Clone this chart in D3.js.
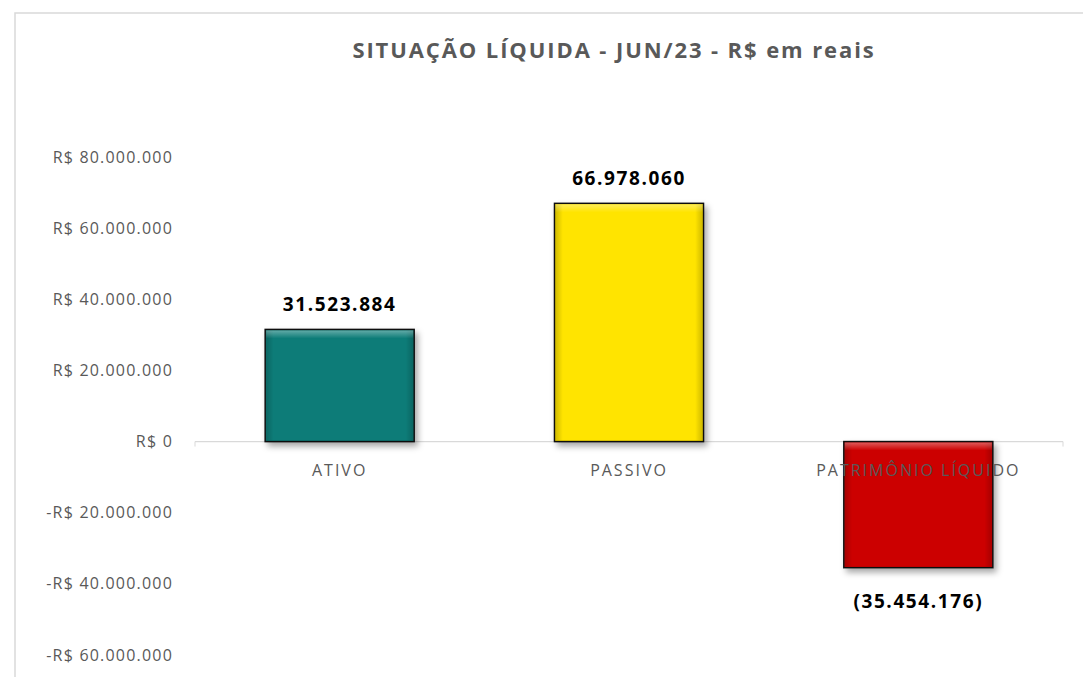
<!DOCTYPE html>
<html lang="pt">
<head>
<meta charset="utf-8">
<title>Situação Líquida</title>
<script src="https://d3js.org/d3.v7.min.js"></script>
<style>
  body { margin: 0; background: #fff; }
  svg { font-family: "Open Sans", "Noto Sans", sans-serif; }
  .frame { fill: #fff; stroke: #d9d9d9; stroke-width: 1.5px; }
  .title { font-size: 22px; font-weight: bold; fill: #595959; letter-spacing: 1.9px; }
  .axis text { font-size: 16px; fill: #595959; letter-spacing: 1.2px; }
  .cat { font-size: 16px; fill: #595959; letter-spacing: 2px; }
  .val { font-size: 19px; font-weight: bold; fill: #000; letter-spacing: 1.6px; }
  .bar { stroke: #111; stroke-width: 1.5px; }
</style>
</head>
<body>
<script>
var categories = ["ATIVO", "PASSIVO", "PATRIMÔNIO LÍQUIDO"];
var values = [31523884, 66978060, -35454176];
var colors = ["#0b7b78", "#ffe400", "#cc0505"];
var yTicks = [-60000000, -40000000, -20000000, 0, 20000000, 40000000, 60000000, 80000000];

var width = 1083, height = 677;
var plotLeft = 195, plotRight = 1063, plotTop = 157, plotBottom = 655;

var svg = d3.select("body").append("svg")
    .attr("width", width)
    .attr("height", height);

var defs = svg.append("defs");
var shadow = defs.append("filter").attr("id", "shadow")
    .attr("x", "-10%").attr("y", "-10%").attr("width", "130%").attr("height", "130%");
shadow.append("feDropShadow")
    .attr("dx", 3).attr("dy", 4).attr("stdDeviation", 3)
    .attr("flood-color", "#000").attr("flood-opacity", 0.35);

// bevel: light at the top edge, darker on the sides
var bevel = defs.append("linearGradient").attr("id", "bevelTop")
    .attr("x1", 0).attr("y1", 0).attr("x2", 0).attr("y2", 1);
bevel.append("stop").attr("offset", 0).attr("stop-color", "#fff").attr("stop-opacity", 0.35);
bevel.append("stop").attr("offset", 1).attr("stop-color", "#fff").attr("stop-opacity", 0);
var side = defs.append("linearGradient").attr("id", "bevelSide")
    .attr("x1", 0).attr("y1", 0).attr("x2", 1).attr("y2", 0);
side.append("stop").attr("offset", 0).attr("stop-color", "#000").attr("stop-opacity", 0.18);
side.append("stop").attr("offset", 0.05).attr("stop-color", "#000").attr("stop-opacity", 0);
side.append("stop").attr("offset", 0.95).attr("stop-color", "#000").attr("stop-opacity", 0);
side.append("stop").attr("offset", 1).attr("stop-color", "#000").attr("stop-opacity", 0.18);

svg.append("rect").attr("class", "frame")
    .attr("x", 15).attr("y", 13).attr("width", 1100).attr("height", 700);

svg.append("text").attr("class", "title")
    .attr("x", 614).attr("y", 58)
    .attr("text-anchor", "middle")
    .text("SITUAÇÃO LÍQUIDA - JUN/23 - R$ em reais");

var x = d3.scaleBand()
    .domain(categories)
    .range([plotLeft, plotRight])
    .paddingInner(0.485)
    .paddingOuter(0.2425);

var y = d3.scaleLinear()
    .domain([-60000000, 80000000])
    .range([plotBottom, plotTop]);

var num = d3.formatLocale({ decimal: ",", thousands: ".", grouping: [3], currency: ["R$ ", ""] }).format(",.0f");
function money(d) { return d < 0 ? "-R$ " + num(-d) : "R$ " + num(d); }

var yAxis = svg.append("g").attr("class", "axis")
    .attr("transform", "translate(" + (plotLeft - 14) + ",0)")
    .call(d3.axisLeft(y).tickValues(yTicks).tickSize(0).tickPadding(8).tickFormat(money))
    .attr("font-family", null)
    .attr("font-size", null);
yAxis.select(".domain").remove();

// zero line
svg.append("line")
    .attr("x1", plotLeft).attr("x2", plotRight)
    .attr("y1", y(0)).attr("y2", y(0))
    .attr("stroke", "#d9d9d9").attr("stroke-width", 1.3);
svg.selectAll(".zt").data([plotLeft, plotRight]).enter().append("line")
    .attr("x1", function(d) { return d; }).attr("x2", function(d) { return d; })
    .attr("y1", y(0)).attr("y2", y(0) + 5)
    .attr("stroke", "#d9d9d9");

var bars = svg.append("g").selectAll("g")
    .data(values).enter().append("g");

bars.append("rect").attr("class", "bar")
    .attr("x", function(d, i) { return x(categories[i]); })
    .attr("y", function(d) { return y(Math.max(0, d)); })
    .attr("width", x.bandwidth())
    .attr("height", function(d) { return Math.abs(y(d) - y(0)); })
    .attr("fill", function(d, i) { return colors[i]; })
    .attr("filter", "url(#shadow)");

bars.append("rect")
    .attr("x", function(d, i) { return x(categories[i]) + 1; })
    .attr("y", function(d) { return y(Math.max(0, d)) + 1; })
    .attr("width", x.bandwidth() - 2)
    .attr("height", function(d) { return Math.abs(y(d) - y(0)) - 2; })
    .attr("fill", "url(#bevelSide)");

bars.append("rect")
    .attr("x", function(d, i) { return x(categories[i]) + 1; })
    .attr("y", function(d) { return y(Math.max(0, d)) + 1; })
    .attr("width", x.bandwidth() - 2)
    .attr("height", 8)
    .attr("fill", "url(#bevelTop)");

// category labels sit just under the zero line
svg.selectAll(".cat").data(categories).enter().append("text")
    .attr("class", "cat")
    .attr("x", function(d) { return x(d) + x.bandwidth() / 2; })
    .attr("y", y(0) + 34)
    .attr("text-anchor", "middle")
    .text(function(d) { return d; });

svg.selectAll(".val").data(values).enter().append("text")
    .attr("class", "val")
    .attr("x", function(d, i) { return x(categories[i]) + x.bandwidth() / 2; })
    .attr("y", function(d) { return d >= 0 ? y(d) - 18 : y(d) + 40; })
    .attr("text-anchor", "middle")
    .text(function(d) { return d < 0 ? "(" + num(-d) + ")" : num(d); });
</script>
</body>
</html>
